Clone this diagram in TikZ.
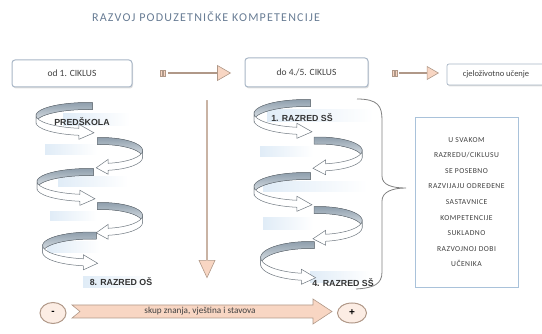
\documentclass[tikz,border=0pt]{standalone}
\usepackage{fontspec}
\usetikzlibrary{shapes.arrows,shapes.geometric,shadows}
\newfontfamily\carlito{Carlito}
\newfontfamily\carlitowide{Carlito}[LetterSpace=6]
\newfontfamily\carlitotitle{Carlito}[LetterSpace=10]
\newfontfamily\arialfont{Liberation Sans}
\definecolor{peach}{HTML}{F8D6C3}
\definecolor{peachline}{HTML}{B09888}
\definecolor{boxline}{HTML}{A8B6C6}
\definecolor{infoline}{HTML}{A9C2DA}
\definecolor{ribbonline}{HTML}{6F7880}
\definecolor{ribbondark}{HTML}{8D9DAB}
\definecolor{ribbonlight}{HTML}{E2E7EB}
\definecolor{stripblue}{HTML}{E0ECF7}
\definecolor{titleblue}{HTML}{687C94}

\begin{document}
\begin{tikzpicture}[x=1pt, y=-1pt,
        ciklusbox/.style={draw=boxline, line width=1pt, rounded corners=3pt, fill=white,
            drop shadow={opacity=0.25, shadow xshift=1pt, shadow yshift=-1.5pt},
            font=\carlito\fontsize{9.5}{11}\selectfont, text=black!75},
        blockarrow/.style={single arrow, draw=peachline, fill=peach, line width=0.6pt,
            single arrow head extend=4pt, single arrow tip angle=60, inner sep=0pt},
        stripe/.style={draw=peachline, fill=peach, line width=0.5pt,
            minimum width=2pt, minimum height=6pt, inner sep=0pt},
        sign/.style={ellipse, draw=peachline, line width=1pt, fill=peach!45,
            font=\arialfont\bfseries\fontsize{10}{11}\selectfont, inner sep=0pt},
        grade/.style={font=\arialfont\bfseries\fontsize{8.8}{10}\selectfont, text=black!80},
        strip/.style={left color=stripblue, right color=white, draw=none},
        ribbon/.style={draw=ribbonline, line width=0.5pt},
        % #1 = xscale (negative: turn to the right), #2 = y radius
        pics/spiralturn/.style 2 args={code={
            \begin{scope}[xscale=#1]
                \filldraw[ribbon, top color=ribbondark, bottom color=ribbonlight]
                    ({52*cos(275)}, {#2*sin(275)-3.5}) arc[start angle=275, end angle=180, x radius=52, y radius=#2]
                    -- ++(0,7) arc[start angle=180, end angle=275, x radius=52, y radius=#2] -- cycle;
                \filldraw[ribbon, fill=white]
                    (-52,-3.5) arc[start angle=180, end angle=100, x radius=52, y radius=#2]
                    -- ++(0,-4) -- ({52*cos(100)+15}, {#2*sin(100)+1})
                    -- ({52*cos(100)}, {#2*sin(100)+7.5})
                    -- ++(0,-4) arc[start angle=100, end angle=180, x radius=52, y radius=#2] -- cycle;
            \end{scope}
        }}
    ]
    \useasboundingbox (0,0) rectangle (542,334);

    \node[font=\carlitotitle\fontsize{12}{14}\selectfont, text=titleblue] (title) at (206,17) {RAZVOJ PODUZETNIČKE KOMPETENCIJE};

    % top row
    \node[ciklusbox, minimum width=120, minimum height=27] (od) at (72,73.5) {od 1. CIKLUS};
    \node[ciklusbox, minimum width=123, minimum height=29] (do) at (306.5,72.5) {do 4./5. CIKLUS};
    \node[ciklusbox, minimum width=98, minimum height=21, line width=0.7pt, rounded corners=2pt,
        font=\carlito\fontsize{8.5}{10}\selectfont] (cjelo) at (496,74.5) {cjeloživotno učenje};

    \node[stripe] (crta1) at (161,73) {};
    \node[stripe] (crta2) at (164.5,73) {};
    \node[blockarrow, minimum width=15, minimum height=62] (prijelaz) at (199,73) {};
    \node[stripe] (crta3) at (393,73) {};
    \node[stripe] (crta4) at (396.5,73) {};
    \node[blockarrow, minimum width=13, minimum height=39] (nastavak) at (418.5,73) {};

    \node[blockarrow, shape border rotate=270, minimum height=177, minimum width=16,
        single arrow tip angle=50] (tok) at (207,188.5) {};

    % light strips behind the spirals
    \fill[strip] (63,114) rectangle (130,126);
    \fill[strip] (45,145) rectangle (97,155);
    \fill[strip] (58,177) rectangle (128,187);
    \fill[strip] (50,212) rectangle (97,221);
    \fill[strip] (47,242) rectangle (100,253);
    \fill[strip] (83,277) rectangle (153,288);
    \fill[strip] (267,110) rectangle (373,122);
    \fill[strip] (260,147) rectangle (313,157);
    \fill[strip] (263,182) rectangle (367,192);
    \fill[strip] (263,218) rectangle (313,230);
    \fill[strip] (310,272) rectangle (370,283);

    % left spiral
    \pic (os1) at (88,119) {spiralturn={1}{13}};
    \pic (os2) at (101,154) {spiralturn={-0.8}{13}};
    \pic (os3) at (89,185) {spiralturn={1}{13}};
    \pic (os4) at (101,219) {spiralturn={-0.8}{13}};
    \pic (os5) at (92,249) {spiralturn={0.95}{13.5}};

    % right spiral
    \pic (ss1) at (306,117) {spiralturn={1}{14}};
    \pic (ss2) at (318,154) {spiralturn={-0.85}{13.5}};
    \pic (ss3) at (306,190) {spiralturn={1}{14}};
    \pic (ss4) at (318,224) {spiralturn={-0.85}{14}};
    \pic (ss5) at (310,261) {spiralturn={0.95}{16}};

    \node[grade] (predskola) at (82,122) {PREDŠKOLA};
    \node[grade] (os) at (121,282) {8. RAZRED OŠ};
    \node[grade] (ss) at (302,118) {1. RAZRED SŠ};
    \node[grade] (sszadnji) at (343,283) {4. RAZRED SŠ};

    % brace and text box
    \draw[gray, line width=0.8pt] (357,99) .. controls (378,99) and (382,106) .. (382,120)
        -- (382,176) .. controls (382,185) and (392,188) .. (406,188)
        .. controls (392,188) and (382,192) .. (382,201)
        -- (382,272) .. controls (382,284) and (374,288) .. (356,289);
    \node[draw=infoline, line width=0.8pt, minimum width=103, minimum height=170, align=center,
        font=\carlitowide\fontsize{7.6}{15.6}\selectfont, text=black!75] (info) at (466.5,202)
        {U SVAKOM\\RAZREDU/CIKLUSU\\SE POSEBNO\\RAZVIJAJU ODREĐENE\\SASTAVNICE\\KOMPETENCIJE\\SUKLADNO\\RAZVOJNOJ DOBI\\UČENIKA};

    % bottom
    \node[sign, minimum width=26, minimum height=21] (minus) at (53,313) {-};
    \node[sign, minimum width=29, minimum height=20] (plus) at (352,313) {+};
    \filldraw[draw=peachline, fill=peach, line width=0.6pt] (72,305) -- (313,305) -- (313,299)
        -- (332,311.5) -- (313,324) -- (313,318) -- (72,318) -- (80,311.5) -- cycle;
    \node[font=\carlito\fontsize{9.2}{11}\selectfont, text=black!75] (skup) at (200,311.5) {skup znanja, vještina i stavova};
\end{tikzpicture}
\end{document}
